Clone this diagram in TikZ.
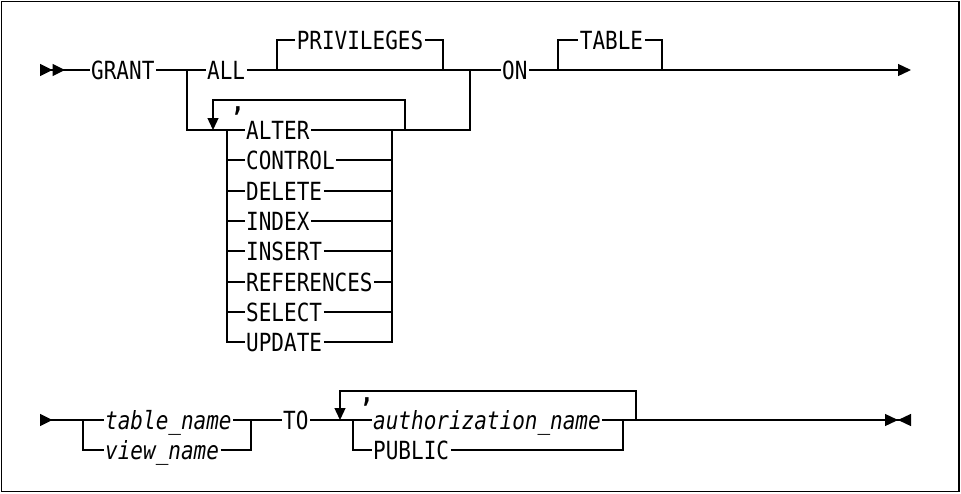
\documentclass[tikz,border=0pt]{standalone}
\usepackage{fontspec}
\newfontfamily\railfont[FakeStretch=0.84]{DejaVu Sans Mono}
\usetikzlibrary{arrows.meta, positioning, calc}
\tikzset{
  kw/.style={font={\fontsize{25}{30}\selectfont\railfont}, inner xsep=1.5pt, inner ysep=0pt,
    text height=18pt, text depth=0pt, anchor=west},
  var/.style={kw, font={\fontsize{25}{30}\selectfont\railfont\itshape}},
  sepmark/.style={font={\fontsize{27}{30}\selectfont\railfont\bfseries}, inner sep=0pt, anchor=base},
  rail/.style={line width=1.3pt},
  back/.style={rail, -{Triangle[length=12pt, width=11pt]}},
}

\begin{document}
\begin{tikzpicture}[x=1pt, y=-1pt]
    \useasboundingbox (0,0) rectangle (961,493);
    \draw[line width=1.5pt] (1.5,1.5) rectangle (959,491.5);
    % first line
    \coordinate (s1) at (40,70);
    \node[kw] (grant) at (89.5,70) {GRANT};
    \coordinate (j1) at (187,70);
    \node[kw] (all) at (205.5,70) {ALL};
    \coordinate (j2) at (277,70);
    \node[kw, anchor=center] (priv) at (360,40) {PRIVILEGES};
    \coordinate (j3) at (443,70);
    \coordinate (j4) at (470,70);
    \node[kw] (on) at (500.5,70) {ON};
    \coordinate (j5) at (558,70);
    \node[kw, anchor=center] (table) at (611.5,40) {TABLE};
    \coordinate (j6) at (662,70);
    \coordinate (e1) at (911,70);
    \draw[rail, {Triangle[length=12.5pt, width=12pt, sep=0pt, reversed]Triangle[length=12.5pt, width=12pt, sep=0pt, reversed]}-] (s1) -- (grant.west);
    \draw[rail] (grant.east) -- (all.west);
    \draw[rail] (all.east) -- (on.west);
    \draw[rail] (j2) |- (priv.west);
    \draw[rail] (priv.east) -| (j3);
    \draw[rail, -{Triangle[length=13pt, width=12pt]}] (on.east) -- (e1);
    \draw[rail] (j5) |- (table.west);
    \draw[rail] (table.east) -| (j6);
    % privilege list
    \node[kw] (alter) at (244.5,130) {ALTER};
    \node[kw] (control) at (244.5,160) {CONTROL};
    \node[kw] (delete) at (244.5,191) {DELETE};
    \node[kw] (index) at (244.5,221) {INDEX};
    \node[kw] (insert) at (244.5,251) {INSERT};
    \node[kw] (refs) at (244.5,282) {REFERENCES};
    \node[kw] (select) at (244.5,312) {SELECT};
    \node[kw] (update) at (244.5,342) {UPDATE};
    \coordinate (l1) at (227,130);
    \coordinate (r1) at (392,130);
    \coordinate (c1) at (405,130);
    \coordinate (c2) at (213,100);
    \coordinate (c3) at (213,130);
    \node[sepmark] (sep1) at (238,111) {,};
    \draw[rail] (j1) |- (alter.west);
    \draw[rail] (alter.east) -| (j4);
    \draw[back] (c1) |- (c2) -- (c3);
    \draw[rail] (l1) |- (update.west);
    \draw[rail] (update.east) -| (r1);
    \draw[rail] (l1 |- control) -- (control.west) (control.east) -- (r1 |- control);
    \draw[rail] (l1 |- delete) -- (delete.west) (delete.east) -- (r1 |- delete);
    \draw[rail] (l1 |- index) -- (index.west) (index.east) -- (r1 |- index);
    \draw[rail] (l1 |- insert) -- (insert.west) (insert.east) -- (r1 |- insert);
    \draw[rail] (l1 |- refs) -- (refs.west) (refs.east) -- (r1 |- refs);
    \draw[rail] (l1 |- select) -- (select.west) (select.east) -- (r1 |- select);
    % second line
    \coordinate (s2) at (40,420);
    \coordinate (j7) at (83,420);
    \node[var] (tname) at (103.5,420) {table\_name};
    \node[var] (vname) at (103.5,450) {view\_name};
    \coordinate (j8) at (251,420);
    \node[kw] (to) at (281.5,420) {TO};
    \coordinate (c4) at (636,420);
    \coordinate (c5) at (340,391);
    \coordinate (c6) at (340,420);
    \node[sepmark] (sep2) at (367,402) {,};
    \coordinate (j9) at (353,420);
    \node[var] (authname) at (371.5,420) {authorization\_name};
    \node[kw] (public) at (371.5,450) {PUBLIC};
    \coordinate (j10) at (623,420);
    \coordinate (e2) at (911,420);
    \draw[rail, {Triangle[length=12.5pt, width=12pt, reversed]}-] (s2) -- (tname.west);
    \draw[rail] (tname.east) -- (to.west);
    \draw[rail] (j7) |- (vname.west);
    \draw[rail] (vname.east) -| (j8);
    \draw[rail] (to.east) -- (authname.west);
    \draw[back] (c4) |- (c5) -- (c6);
    \draw[rail] (j9) |- (public.west);
    \draw[rail] (public.east) -| (j10);
    \draw[rail, -{Triangle[length=13pt, width=12pt, sep=0pt]Triangle[length=13pt, width=12pt, sep=0pt, reversed]}] (authname.east) -- (e2);
\end{tikzpicture}
\end{document}
